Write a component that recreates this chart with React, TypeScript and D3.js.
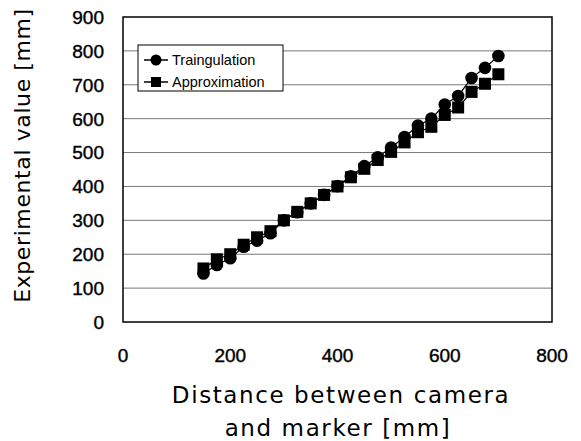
import React, { useEffect, useRef } from "react";
import * as d3 from "d3";

const distances = [150, 175, 200, 225, 250, 275, 300, 325, 350, 375, 400, 425, 450, 475, 500, 525, 550, 575, 600, 625, 650, 675, 700];
const triangulation = [143, 168, 188, 222, 240, 262, 300, 324, 350, 375, 401, 430, 460, 486, 515, 546, 580, 600, 642, 667, 720, 750, 785];
const approximation = [158, 185, 200, 228, 250, 268, 300, 325, 350, 375, 400, 427, 452, 478, 502, 530, 560, 576, 611, 633, 679, 703, 731];
const yTicks = [0, 100, 200, 300, 400, 500, 600, 700, 800, 900];
const xTicks = [0, 200, 400, 600, 800];
const seriesNames = ["Traingulation", "Approximation"];

const W = 581;
const H = 441;
const margin = { top: 17, right: 29, bottom: 119, left: 123 };
const tickFont = "'Liberation Sans', Arial, sans-serif";
const titleFont = "'DejaVu Sans', sans-serif";

function App() {
  const ref = useRef<SVGSVGElement>(null);

  useEffect(() => {
    const svg = d3.select(ref.current);
    svg.selectAll("*").remove();

    const x = d3.scaleLinear().domain([0, 800]).range([margin.left, W - margin.right]);
    const y = d3.scaleLinear().domain([0, 900]).range([H - margin.bottom, margin.top]);

    svg.append("rect").attr("width", W).attr("height", H).attr("fill", "#fff");

    // gridlines
    svg
      .append("g")
      .selectAll("line")
      .data(yTicks.filter((d) => d > 0 && d < 900))
      .join("line")
      .attr("x1", x(0))
      .attr("x2", x(800))
      .attr("y1", (d) => y(d))
      .attr("y2", (d) => y(d))
      .attr("stroke", "#777")
      .attr("stroke-width", 1);

    // plot border
    svg
      .append("rect")
      .attr("x", x(0))
      .attr("y", y(900))
      .attr("width", x(800) - x(0))
      .attr("height", y(0) - y(900))
      .attr("fill", "none")
      .attr("stroke", "#000")
      .attr("stroke-width", 1.5);

    // tick labels
    svg
      .append("g")
      .selectAll("text")
      .data(yTicks)
      .join("text")
      .attr("x", 104)
      .attr("y", (d) => y(d))
      .attr("dy", "0.36em")
      .attr("text-anchor", "end")
      .attr("font-family", tickFont)
      .attr("font-size", 19)
      .attr("stroke", "#000")
      .attr("stroke-width", 0.4)
      .text((d) => d);

    svg
      .append("g")
      .selectAll("text")
      .data(xTicks)
      .join("text")
      .attr("x", (d) => x(d))
      .attr("y", 355)
      .attr("dy", "0.36em")
      .attr("text-anchor", "middle")
      .attr("font-family", tickFont)
      .attr("font-size", 19)
      .attr("stroke", "#000")
      .attr("stroke-width", 0.4)
      .text((d) => d);

    // axis titles
    svg
      .append("text")
      .attr("transform", `translate(22, ${(y(0) + y(900)) / 2 - 14}) rotate(-90)`)
      .attr("text-anchor", "middle")
      .attr("dy", "0.36em")
      .attr("font-family", titleFont)
      .attr("font-size", 22)
      .attr("letter-spacing", 0.6)
      .text("Experimental value [mm]");

    const xt = svg
      .append("text")
      .attr("text-anchor", "middle")
      .attr("font-family", titleFont)
      .attr("font-size", 23)
      .attr("letter-spacing", 1.6);
    xt.append("tspan").attr("x", 341).attr("y", 403).text("Distance between camera");
    xt.append("tspan").attr("x", 338).attr("y", 436).text("and marker [mm]");

    const line = d3
      .line<[number, number]>()
      .x((d) => x(d[0]))
      .y((d) => y(d[1]));

    const tri: [number, number][] = distances.map((d, i) => [d, triangulation[i]]);
    const app: [number, number][] = distances.map((d, i) => [d, approximation[i]]);

    svg.append("path").attr("d", line(app)).attr("fill", "none").attr("stroke", "#000").attr("stroke-width", 1.2);
    svg.append("path").attr("d", line(tri)).attr("fill", "none").attr("stroke", "#000").attr("stroke-width", 1.2);

    const sq = 12;
    svg
      .append("g")
      .selectAll("rect")
      .data(app)
      .join("rect")
      .attr("x", (d) => x(d[0]) - sq / 2)
      .attr("y", (d) => y(d[1]) - sq / 2)
      .attr("width", sq)
      .attr("height", sq)
      .attr("fill", "#000");

    svg
      .append("g")
      .selectAll("circle")
      .data(tri)
      .join("circle")
      .attr("cx", (d) => x(d[0]))
      .attr("cy", (d) => y(d[1]))
      .attr("r", 6.3)
      .attr("fill", "#000");

    // legend
    const lg = svg.append("g").attr("transform", "translate(138, 45)");
    lg.append("rect")
      .attr("width", 145)
      .attr("height", 46)
      .attr("fill", "#fff")
      .attr("stroke", "#000")
      .attr("stroke-width", 1);
    seriesNames.forEach((name, i) => {
      const cy = 15 + i * 22;
      lg.append("line").attr("x1", 6).attr("x2", 30).attr("y1", cy).attr("y2", cy).attr("stroke", "#000").attr("stroke-width", 1.5);
      if (i === 0) {
        lg.append("circle").attr("cx", 18).attr("cy", cy).attr("r", 5.5).attr("fill", "#000");
      } else {
        lg.append("rect").attr("x", 13).attr("y", cy - 5).attr("width", 10).attr("height", 10).attr("fill", "#000");
      }
      lg.append("text")
        .attr("x", 34)
        .attr("y", cy)
        .attr("dy", "0.36em")
        .attr("font-family", tickFont)
        .attr("font-size", 14.5)
        .text(name);
    });
  }, []);

  return (
    <svg
      ref={ref}
      width={W}
      height={H}
      style={{ position: "absolute", left: 0, top: 0, display: "block" }}
    />
  );
}

export default App;
